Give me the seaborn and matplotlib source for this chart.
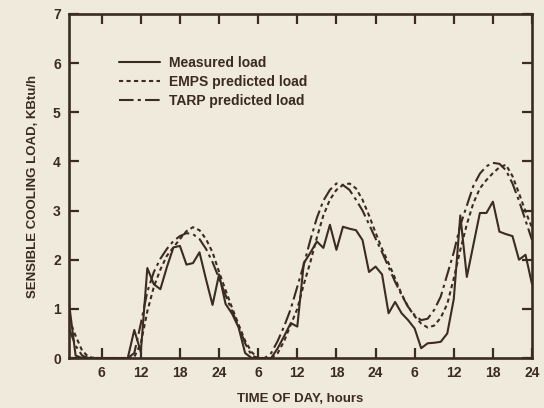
import numpy as np
import pandas as pd
import matplotlib
matplotlib.use("Agg")
import matplotlib.pyplot as plt
import seaborn as sns

# hours from start of day 1 (3 days shown)
hours = list(range(1, 73))

measured = [1.1, 0.05, 0, 0, 0, 0, 0, 0, 0, 0,
            0.57, 0.12, 1.83, 1.5, 1.4, 1.85, 2.25, 2.28, 1.9, 1.93,
            2.15, 1.6, 1.08, 1.7, 1.1, 0.9, 0.62, 0.1, 0, 0,
            0, 0, 0.2, 0.45, 0.71, 0.64, 1.93, 2.14, 2.37, 2.24,
            2.71, 2.2, 2.67, 2.63, 2.6, 2.4, 1.75, 1.86, 1.7, 0.91,
            1.14, 0.91, 0.77, 0.6, 0.2, 0.3, 0.31, 0.33, 0.5, 1.2,
            2.9, 1.65, 2.3, 2.95, 2.95, 3.18, 2.57, 2.52, 2.48, 2.0,
            2.1, 1.5]

emps = [0.8, 0.45, 0.15, 0.02, 0, 0, 0, 0, 0, 0,
        0.02, 0.3, 0.95, 1.45, 1.8, 2.08, 2.25, 2.42, 2.58, 2.66,
        2.6, 2.42, 2.15, 1.75, 1.38, 1.02, 0.68, 0.35, 0.12, 0,
        0, 0, 0.1, 0.35, 0.68, 1.0, 1.5, 1.95, 2.45, 2.9,
        3.22, 3.42, 3.52, 3.55, 3.45, 3.22, 2.9, 2.55, 2.22, 1.93,
        1.62, 1.3, 1.04, 0.85, 0.7, 0.62, 0.66, 0.82, 1.1, 1.62,
        2.2, 2.72, 3.15, 3.45, 3.62, 3.76, 3.88, 3.93, 3.7, 3.35,
        2.98, 2.65]

tarp = [0.6, 0.25, 0.05, 0, 0, 0, 0, 0, 0, 0,
        0.1, 0.7, 1.35, 1.75, 2.02, 2.22, 2.38, 2.48, 2.54, 2.52,
        2.42, 2.22, 1.95, 1.62, 1.28, 0.95, 0.64, 0.3, 0.05, 0,
        0, 0.1, 0.35, 0.65, 1.0, 1.45, 1.9, 2.4, 2.85, 3.2,
        3.42, 3.55, 3.52, 3.42, 3.22, 3.0, 2.72, 2.43, 2.15, 1.85,
        1.55, 1.28, 1.04, 0.87, 0.77, 0.8, 0.98, 1.25, 1.7, 2.15,
        2.7, 3.1, 3.5, 3.75, 3.9, 3.97, 3.95, 3.82, 3.55, 3.2,
        2.8, 2.4]

tick_pos = [6, 12, 18, 24, 30, 36, 42, 48, 54, 60, 66, 72]
tick_labels = ["6", "12", "18", "24", "6", "12", "18", "24", "6", "12", "18", "24"]

bg = "#efeadb"
ink = "#3b2b22"

sns.set_theme(style="ticks")
plt.rcParams['font.family'] = ['Liberation Sans', 'DejaVu Sans']
plt.rcParams['font.weight'] = 'bold'

df = pd.DataFrame({"hour": hours, "Measured load": measured,
                   "EMPS predicted load": emps, "TARP predicted load": tarp})

fig = plt.figure(figsize=(5.44, 4.08), dpi=100, facecolor=bg)
ax = fig.add_axes([0.127, 0.1225, 0.851, 0.8435])
ax.set_facecolor(bg)

sns.lineplot(data=df, x="hour", y="Measured load", ax=ax, color=ink,
             linewidth=1.5, label="Measured load")
sns.lineplot(data=df, x="hour", y="EMPS predicted load", ax=ax, color=ink,
             linewidth=1.5, label="EMPS predicted load")
sns.lineplot(data=df, x="hour", y="TARP predicted load", ax=ax, color=ink,
             linewidth=1.5, label="TARP predicted load")
ax.lines[1].set_linestyle((0, (2.0, 1.6)))
ax.lines[2].set_linestyle((0, (7, 2, 1.5, 2)))

ax.set_xlim(1, 72)
ax.set_ylim(0, 7)
ax.set_xticks(tick_pos)
ax.set_xticklabels(tick_labels)
ax.set_yticks(range(0, 8))
ax.tick_params(direction="in", length=7, width=1.6, color=ink, labelcolor=ink,
               labelsize=10, top=True, right=True, pad=6)
for s in ax.spines.values():
    s.set_linewidth(1.9)
    s.set_color(ink)

ax.set_xlabel("TIME OF DAY, hours", fontsize=9.5, fontweight="bold", color=ink, labelpad=9)
ax.set_ylabel("SENSIBLE COOLING LOAD, KBtu/h", fontsize=9.5, fontweight="bold", color=ink, labelpad=10)

leg = ax.legend(loc="upper left", bbox_to_anchor=(0.08, 0.915), frameon=False,
                handlelength=3.0, handletextpad=0.6, labelspacing=0.38,
                prop={"weight": "bold", "size": 10})
for t in leg.get_texts():
    t.set_color(ink)

fig.savefig("out.png", dpi=100, facecolor=bg)
